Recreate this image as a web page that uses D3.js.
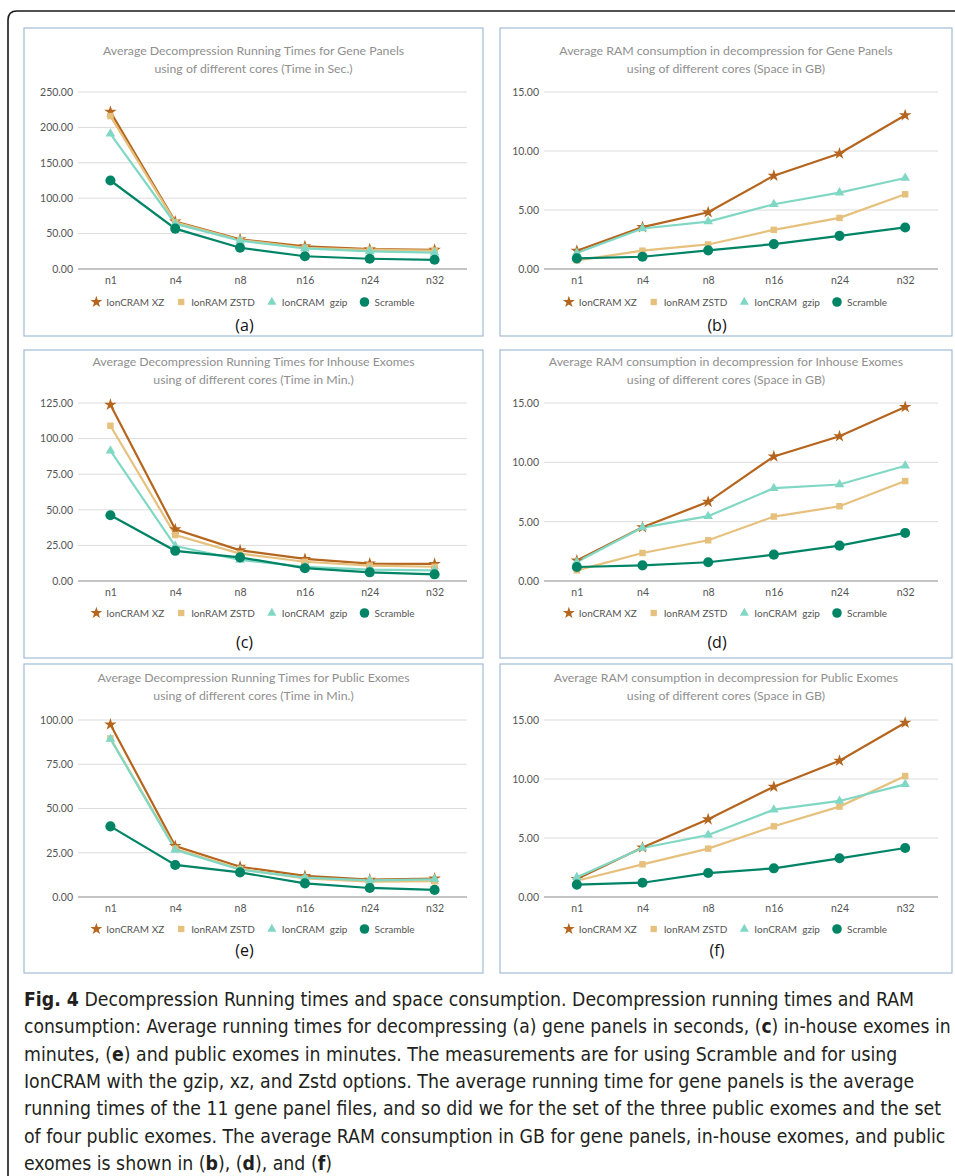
<!DOCTYPE html>
<html>
<head>
<meta charset="utf-8">
<script src="https://cdn.jsdelivr.net/npm/d3@7"></script>
<style>
  body { margin: 0; background: #fff; }
  svg { display: block; }
</style>
</head>
<body>
<svg id="fig" width="955" height="1176"></svg>
<script>
//cores on the x axis
var cores = ["n1", "n4", "n8", "n16", "n24", "n32"];

//series, same order as the rows of every panel array
var seriesNames = ["IonCRAM XZ", "IonRAM ZSTD", "IonCRAM  gzip", "Scramble"];

//values, one row per series
var geneTime = [
  [222, 67, 42, 32, 28, 27],
  [216, 66, 41, 30, 27, 26],
  [191, 64, 40, 29, 25, 23],
  [125, 57, 30, 18, 14.5, 13]
];
var geneRam = [
  [1.55, 3.55, 4.81, 7.91, 9.79, 13.03],
  [0.73, 1.55, 2.08, 3.32, 4.33, 6.33],
  [1.35, 3.43, 4.02, 5.49, 6.47, 7.71],
  [0.9, 1.04, 1.58, 2.11, 2.81, 3.52]
];
var inhouseTime = [
  [123.8, 36.3, 21.5, 15.5, 12.2, 12],
  [109, 32.3, 19.2, 13.5, 10.8, 10],
  [91.5, 24.5, 14.8, 10, 8, 7.5],
  [46.2, 21.2, 16.6, 9, 6.1, 4.7]
];
var inhouseRam = [
  [1.72, 4.53, 6.67, 10.5, 12.2, 14.66],
  [0.9, 2.36, 3.43, 5.43, 6.3, 8.42],
  [1.6, 4.5, 5.46, 7.82, 8.13, 9.71],
  [1.18, 1.32, 1.58, 2.22, 2.98, 4.05]
];
var publicTime = [
  [97.5, 28.8, 17.1, 11.9, 9.8, 10.4],
  [89.6, 27.3, 15.8, 10.5, 8.7, 8.9],
  [89.3, 26.6, 15.4, 10.9, 9.4, 10],
  [39.9, 18.1, 13.9, 7.7, 5.1, 4]
];
var publicRam = [
  [1.53, 4.2, 6.58, 9.35, 11.55, 14.77],
  [1.38, 2.77, 4.1, 5.99, 7.66, 10.25],
  [1.67, 4.15, 5.25, 7.4, 8.14, 9.55],
  [1.05, 1.21, 2.03, 2.43, 3.28, 4.15]
];

//y axis ticks
var timeTicksGene = [0, 50, 100, 150, 200, 250];
var timeTicksInhouse = [0, 25, 50, 75, 100, 125];
var timeTicksPublic = [0, 25, 50, 75, 100];
var ramTicks = [0, 5, 10, 15];

//panel titles
var titles = [
  ["Average Decompression Running Times for Gene Panels", "using of different cores (Time in Sec.)"],
  ["Average RAM consumption in decompression for Gene Panels", "using of different cores (Space in GB)"],
  ["Average Decompression Running Times for Inhouse Exomes", "using of different cores (Time in Min.)"],
  ["Average RAM consumption in decompression for Inhouse Exomes", "using of different cores (Space in GB)"],
  ["Average Decompression Running Times for Public Exomes", "using of different cores (Time in Min.)"],
  ["Average RAM consumption in decompression for Public Exomes", "using of different cores (Space in GB)"]
];
var panelLetters = ["(a)", "(b)", "(c)", "(d)", "(e)", "(f)"];

//series colors and markers
var colors = ["#b5651d", "#e6c17e", "#80d8c4", "#008466"];
var symbols = [d3.symbolStar, d3.symbolSquare, d3.symbolTriangle, d3.symbolCircle];
var symbolSizes = [48, 42, 40, 80];
var legendSizes = [44, 40, 36, 72];

var titleFont = "Lato, 'Open Sans', sans-serif";
var svg = d3.select("#fig");

//outer figure frame, cut by the page edges
svg.append("path")
  .attr("d", "M8,1190 L8,20 Q8,11 17,11 L970,11")
  .attr("fill", "none")
  .attr("stroke", "#1a1a1a")
  .attr("stroke-width", 1.6);

//panel boxes and plot areas
var columns = [
  {x0: 24, x1: 483, plotL: 78, plotR: 467},
  {x0: 500, x1: 952, plotL: 544, plotR: 938}
];
var rows = [
  {y0: 28, y1: 336, title: 51, top: 92, bottom: 269, xlab: 280, legend: 302, letter: 325},
  {y0: 350, y1: 658, title: 362, top: 403, bottom: 581, xlab: 592, legend: 613, letter: 642},
  {y0: 664, y1: 973, title: 678, top: 720, bottom: 897, xlab: 908, legend: 929, letter: 950}
];

var panels = [
  {data: geneTime, ticks: timeTicksGene},
  {data: geneRam, ticks: ramTicks},
  {data: inhouseTime, ticks: timeTicksInhouse},
  {data: inhouseRam, ticks: ramTicks},
  {data: publicTime, ticks: timeTicksPublic},
  {data: publicRam, ticks: ramTicks}
];

panels.forEach(function(p, i) {
  var c = columns[i % 2], r = rows[Math.floor(i / 2)];
  drawPanel(p, c, r, i);
});

function drawPanel(p, c, r, i) {
  var g = svg.append("g");
  var cx = (c.x0 + c.x1) / 2;

  g.append("rect")
    .attr("x", c.x0).attr("y", r.y0)
    .attr("width", c.x1 - c.x0).attr("height", r.y1 - r.y0)
    .attr("fill", "#fff")
    .attr("stroke", "#a3bcd6")
    .attr("stroke-width", 1.2);

  //title
  titles[i].forEach(function(t, k) {
    g.append("text")
      .attr("x", cx).attr("y", r.title + k * 18)
      .attr("dy", "0.35em")
      .attr("text-anchor", "middle")
      .attr("font-family", titleFont)
      .attr("font-size", 12.3)
      .attr("fill", "#8f8f8f")
      .text(t);
  });

  var x = d3.scalePoint().domain(cores).range([c.plotL, c.plotR]).padding(0.5);
  var y = d3.scaleLinear().domain([0, d3.max(p.ticks)]).range([r.bottom, r.top]);

  //grid lines
  g.selectAll(".grid").data(p.ticks.slice(1)).enter().append("line")
    .attr("x1", c.plotL).attr("x2", c.plotR)
    .attr("y1", function(d) { return y(d); })
    .attr("y2", function(d) { return y(d); })
    .attr("stroke", "#dcdcdc").attr("stroke-width", 1);

  //y axis labels
  var yAxis = d3.axisLeft(y).tickValues(p.ticks).tickSize(0).tickPadding(5)
    .tickFormat(d3.format(".2f"));
  var ya = g.append("g").attr("transform", "translate(" + c.plotL + ",0)").call(yAxis);
  ya.select(".domain").remove();
  ya.selectAll("text").attr("font-family", titleFont).attr("font-size", 10.5).attr("fill", "#555");

  //x axis
  var xAxis = d3.axisBottom(x).tickSize(0).tickPadding(0);
  var xa = g.append("g").attr("transform", "translate(0," + r.bottom + ")").call(xAxis);
  xa.select(".domain").attr("d", "M" + c.plotL + ",0H" + c.plotR).attr("stroke", "#8a8a8a").attr("stroke-width", 1.2);
  xa.selectAll("text").attr("y", r.xlab - r.bottom).attr("dy", "0.35em")
    .attr("font-family", titleFont).attr("font-size", 10.5).attr("fill", "#555");

  //lines and markers
  var line = d3.line()
    .x(function(d, k) { return x(cores[k]); })
    .y(function(d) { return y(d); });

  p.data.forEach(function(vals, s) {
    g.append("path").datum(vals)
      .attr("d", line)
      .attr("fill", "none")
      .attr("stroke", colors[s])
      .attr("stroke-width", 2.2);
  });
  p.data.forEach(function(vals, s) {
    g.selectAll(".m" + s).data(vals).enter().append("path")
      .attr("transform", function(d, k) { return "translate(" + x(cores[k]) + "," + y(d) + ")"; })
      .attr("d", d3.symbol().type(symbols[s]).size(symbolSizes[s]))
      .attr("fill", colors[s]);
  });

  //legend, centred on the panel
  var leg = g.append("g");
  var pos = 0;
  seriesNames.forEach(function(name, s) {
    var item = leg.append("g").attr("transform", "translate(" + pos + ",0)");
    item.append("path")
      .attr("transform", "translate(4," + r.legend + ")")
      .attr("d", d3.symbol().type(symbols[s]).size(legendSizes[s]))
      .attr("fill", colors[s]);
    var t = item.append("text")
      .attr("x", 14).attr("y", r.legend).attr("dy", "0.35em")
      .attr("font-family", titleFont).attr("font-size", 10).attr("fill", "#555")
      .attr("xml:space", "preserve")
      .text(name);
    pos += 14 + t.node().getComputedTextLength() + 13;
  });
  pos -= 13;
  leg.attr("transform", "translate(" + (cx - pos / 2) + ",0)");

  g.append("text")
    .attr("x", cx - 9).attr("y", r.letter).attr("dy", "0.35em")
    .attr("text-anchor", "middle")
    .attr("font-family", "'Open Sans', sans-serif")
    .attr("font-size", 16).attr("fill", "#111")
    .text(panelLetters[i]);
}

//caption, bold parts marked with *
var captionLines = [
  "*Fig. 4* Decompression Running times and space consumption. Decompression running times and RAM",
  "consumption: Average running times for decompressing (a) gene panels in seconds, (*c*) in-house exomes in",
  "minutes, (*e*) and public exomes in minutes. The measurements are for using Scramble and for using",
  "IonCRAM with the gzip, xz, and Zstd options. The average running time for gene panels is the average",
  "running times of the 11 gene panel files, and so did we for the set of the three public exomes and the set",
  "of four public exomes. The average RAM consumption in GB for gene panels, in-house exomes, and public",
  "exomes is shown in (*b*), (*d*), and (*f*)"
];

var capSize = 19.3;
var cap = svg.append("g")
  .attr("font-family", "'Liberation Sans Narrow', 'DejaVu Sans Condensed', sans-serif")
  .attr("fill", "#231f20");

captionLines.forEach(function(l, k) {
  var t = cap.append("text").attr("x", 24).attr("y", 1006 + k * 27.3)
    .attr("font-size", capSize).attr("xml:space", "preserve");
  l.split("*").forEach(function(part, j) {
    if (part === "") return;
    t.append("tspan").attr("font-weight", j % 2 ? "bold" : null).text(part);
  });
  //shrink a line slightly if it would run past the frame
  var w = t.node().getComputedTextLength();
  if (w > 926) t.attr("font-size", capSize * 926 / w);
});
</script>
</body>
</html>
